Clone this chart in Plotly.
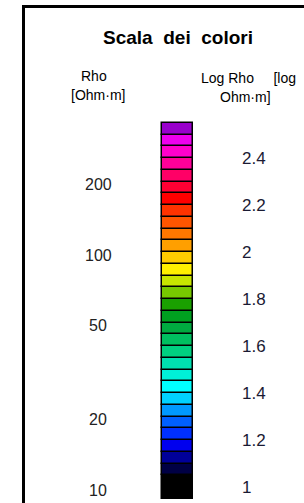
import numpy as np
import plotly.graph_objects as go

# ---- data ----
cell_colors = [  # from bottom (log rho 0.95) to top (2.55)
    "#000000", "#000044", "#000099", "#0000EE", "#0030FF", "#0060FF",
    "#0099FF", "#00D2FF", "#00FFFF", "#00F0D8", "#00E0B0", "#00D080",
    "#00C060", "#00AA40", "#00A020", "#1AA000", "#77C800", "#C8E600",
    "#FFF000", "#FFCC00", "#FF9F00", "#FF7700", "#FF5500", "#FF3300",
    "#FF0000", "#FF0033", "#FF0066", "#FF0099", "#FF00CC", "#EE00EE",
    "#9900CC",
]
cell_bottoms = [0.95, 1.05, 1.10, 1.15, 1.20, 1.25, 1.30, 1.35, 1.40, 1.45,
                1.50, 1.55, 1.60, 1.65, 1.70, 1.75, 1.80, 1.85, 1.90, 1.95,
                2.00, 2.05, 2.10, 2.15, 2.20, 2.25, 2.30, 2.35, 2.40, 2.45, 2.50]
cell_heights = [0.10] + [0.05] * 30
rho_ticks = [200, 100, 50, 20, 10]
log_ticks = [2.4, 2.2, 2.0, 1.8, 1.6, 1.4, 1.2, 1.0]
log_tick_labels = ["2.4", "2.2", "2", "1.8", "1.6", "1.4", "1.2", "1"]

W, H = 304, 503
FONT = "Liberation Sans, Arial, sans-serif"

def py(p):  # pixel y -> paper
    return 1 - p / H

fig = go.Figure()
fig.add_trace(go.Bar(
    x=[177.5] * len(cell_colors), y=cell_heights, base=cell_bottoms,
    width=31, marker=dict(color=cell_colors, line=dict(color="black", width=1.5)),
    hoverinfo="skip", showlegend=False,
))

ann = []
ann.append(dict(text="<b>Scala\u00a0\u00a0dei\u00a0\u00a0colori</b>", x=177.5, y=py(38),
                xref="x", yref="paper", showarrow=False, xanchor="center", yanchor="middle",
                font=dict(size=19, color="black", family=FONT)))
ann.append(dict(text="Rho", x=93.5, y=py(76), xref="x", yref="paper", showarrow=False,
                xanchor="center", yanchor="middle", font=dict(size=14, color="black", family=FONT)))
ann.append(dict(text="[Ohm·m]", x=97.5, y=py(95), xref="x", yref="paper", showarrow=False,
                xanchor="center", yanchor="middle", font=dict(size=14, color="black", family=FONT)))
ann.append(dict(text="Log Rho\u00a0\u00a0\u00a0\u00a0\u00a0[log", x=199, y=py(78), xref="x", yref="paper",
                showarrow=False, xanchor="left", yanchor="middle",
                font=dict(size=14, color="black", family=FONT)))
ann.append(dict(text="Ohm·m]", x=245, y=py(97), xref="x", yref="paper", showarrow=False,
                xanchor="center", yanchor="middle", font=dict(size=14, color="black", family=FONT)))
for r in rho_ticks:
    ann.append(dict(text=str(r), x=98, y=np.log10(r), xref="x", yref="y", showarrow=False,
                    xanchor="center", yanchor="middle", yshift=-3,
                    font=dict(size=16, color="#222222", family=FONT)))
for v, t in zip(log_ticks, log_tick_labels):
    ann.append(dict(text=t, x=240, y=v, xref="x", yref="y", showarrow=False,
                    xanchor="left", yanchor="middle",
                    font=dict(size=17, color="#1a1a33", family=FONT)))

fig.update_layout(
    width=W, height=H, margin=dict(l=0, r=0, t=0, b=0),
    paper_bgcolor="white", plot_bgcolor="white",
    xaxis=dict(range=[0, W], visible=False, fixedrange=True),
    yaxis=dict(range=[1 - (H - 487) / 235, 1 + 487 / 235], visible=False, fixedrange=True),
    annotations=ann, bargap=0,
    shapes=[
        dict(type="line", xref="x", yref="paper", x0=23.5, x1=23.5, y0=py(5), y1=py(H + 5),
             line=dict(color="black", width=3)),
        dict(type="line", xref="x", yref="paper", x0=22, x1=W + 5, y0=py(6.5), y1=py(6.5),
             line=dict(color="black", width=3)),
    ],
)
fig.write_html("out.html", config={"displayModeBar": False},
               post_script="document.body.style.margin='0';document.body.style.overflow='hidden';")
